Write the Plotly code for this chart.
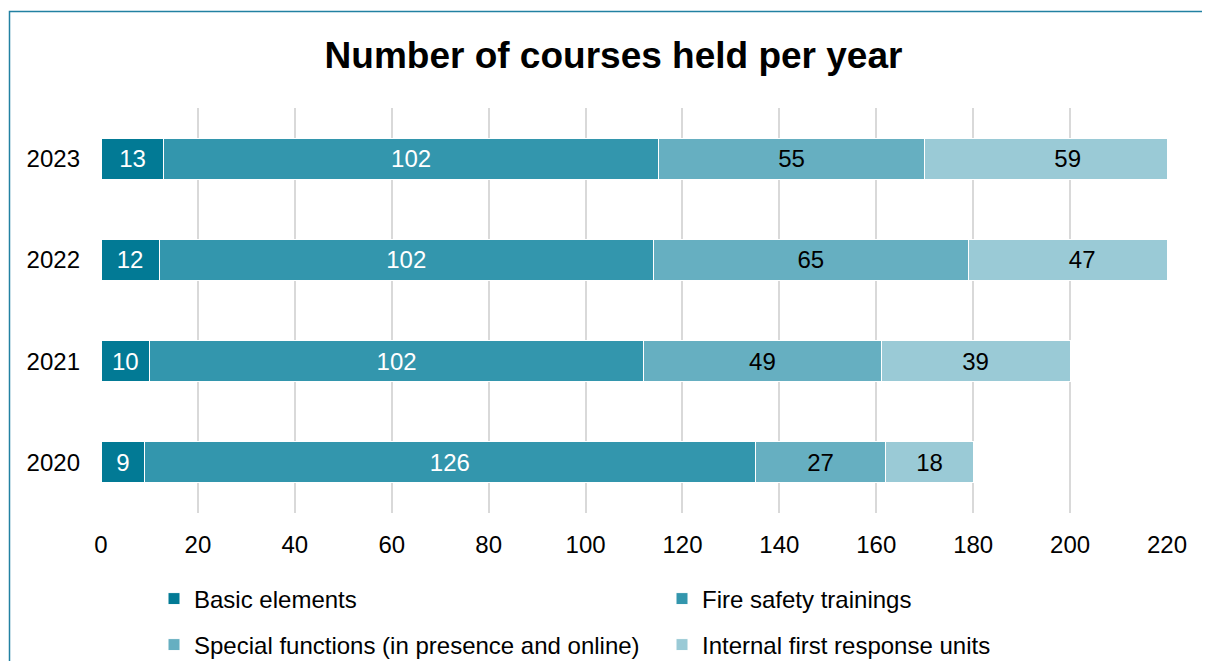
import plotly.graph_objects as go

years = ["2020", "2021", "2022", "2023"]
series_names = [
    "Basic elements",
    "Fire safety trainings",
    "Special functions (in presence and online)",
    "Internal first response units",
]
basic = [9, 10, 12, 13]
fire = [126, 102, 102, 102]
special = [27, 49, 65, 55]
internal = [18, 39, 47, 59]
x_ticks = list(range(0, 221, 20))

colors = ["#027A95", "#3396AD", "#66AFC1", "#9ACAD6"]
text_colors = ["white", "white", "black", "black"]
legend_ids = ["legend", "legend2", "legend3", "legend4"]

W, H = 1210, 661
OFF = 8  # page body margin
L, R, T, B = 101 - OFF, 1210 - (1167 - OFF), 108 - OFF, 661 - (513 - OFF)
pw, ph = W - L - R, H - T - B
FONT = "Liberation Sans, Arial, sans-serif"

fig = go.Figure()
for name, vals, c, tc, lg in zip(series_names, [basic, fire, special, internal], colors, text_colors, legend_ids):
    fig.add_trace(go.Bar(
        y=years, x=vals, name=name, orientation="h",
        marker=dict(color=c, line=dict(color="white", width=1)),
        text=[str(v) for v in vals], textposition="inside", insidetextanchor="middle",
        textangle=0, constraintext="none",
        textfont=dict(color=tc, size=24, family=FONT),
        hoverinfo="skip", legend=lg, showlegend=True,
    ))

def paper_x(px):
    return (px - OFF - L) / pw

def paper_y(py):
    return (H - B - (py - OFF)) / ph

def legend_box(px_sym_center, py_center):
    return dict(orientation="h", xref="container", yref="container",
                x=(px_sym_center - OFF - 20) / W, xanchor="left",
                y=1 - (py_center - OFF) / H, yanchor="middle",
                font=dict(size=24, family=FONT, color="black"),
                bgcolor="rgba(0,0,0,0)", itemclick=False, itemdoubleclick=False,
                visible=True)

bx0, by0 = paper_x(9.5), paper_y(11.5)
bx1, by1 = paper_x(1300), paper_y(760)
border_path = f"M {bx0},{by1} L {bx0},{by0} L {bx1},{by0}"

fig.update_layout(
    width=W, height=H, showlegend=True,
    margin=dict(l=L, r=R, t=T, b=B, pad=0, autoexpand=False),
    barmode="stack", bargap=0.595,
    plot_bgcolor="white", paper_bgcolor="white",
    font=dict(family=FONT, size=24, color="black"),
    title=dict(text="<b>Number of courses held per year</b>", x=(613.5 - OFF) / W, xanchor="center",
               y=1 - (55 - OFF) / H, yanchor="middle", font=dict(size=37, color="black", family=FONT)),
    xaxis=dict(range=[0, 220], tickvals=x_ticks, showgrid=True, gridcolor="#D9D9D9", gridwidth=2,
               zeroline=False, showline=False, ticks="", ticklabelstandoff=15,
               tickfont=dict(size=24)),
    yaxis=dict(categoryorder="array", categoryarray=years, range=[-0.5, 3.5], showgrid=False,
               zeroline=False, showline=False, ticks="", ticklabelstandoff=20,
               tickfont=dict(size=24)),
    legend=legend_box(174, 599),
    legend2=legend_box(682, 599),
    legend3=legend_box(174, 645),
    legend4=legend_box(682, 645),
    shapes=[dict(type="path", xref="paper", yref="paper", path=border_path,
                 line=dict(color="#2281A2", width=1.5), layer="below")],
)

fig.write_html("out.html")
